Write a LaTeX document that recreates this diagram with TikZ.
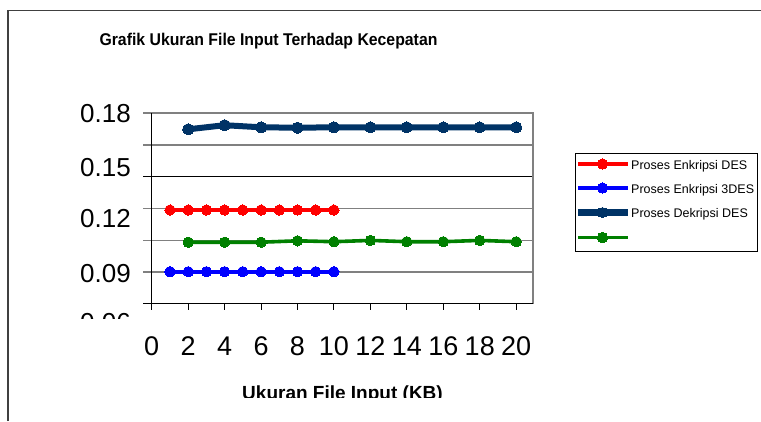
\documentclass[tikz,border=0pt]{standalone}
\usepackage{fontspec}
\setmainfont{Liberation Sans}
\definecolor{navy}{RGB}{0,51,102}
\definecolor{desgreen}{RGB}{0,128,0}
\definecolor{gridgray}{RGB}{128,128,128}
\definecolor{framegray}{RGB}{64,64,64}
\tikzset{
  gridline/.style={draw=gridgray, line width=1.2pt},
  tickline/.style={draw=black, line width=1pt},
  series/.style={line width=3.6pt, line join=round, mark=*, mark size=5.2pt,
                 mark options={solid, line width=0pt}},
  ylab/.style={anchor=base east, inner sep=0pt, font=\fontsize{26}{26}\selectfont},
  xlab/.style={anchor=base, inner sep=0pt, font=\fontsize{27}{27}\selectfont},
  legtext/.style={anchor=base west, inner sep=0pt, font=\fontsize{12.5}{12.5}\selectfont},
}
\begin{document}
\begin{tikzpicture}[x=1pt, y=-1pt]
\useasboundingbox (0,0) rectangle (761,421);
\fill[white] (0,0) rectangle (761,421);

% outer chart frame (top and left edges)
\draw[framegray, line width=1.5pt] (8,421) -- (8,10.5) -- (761,10.5);

% chart title
\node[anchor=base, inner sep=0pt, font=\bfseries\fontsize{17}{17}\selectfont]
  (title) at (268.5,45) {\scalebox{0.93}[1]{Grafik Ukuran File Input Terhadap Kecepatan}};

% horizontal gridlines
\foreach \gy in {145,208.7,240.7,272} {
  \draw[gridline] (143,\gy) -- (533,\gy);
}
\draw[tickline] (143,176.7) -- (533,176.7);
% plot area border (top and right)
\draw[gridgray, line width=1.5pt] (143,113) -- (533,113) -- (533,304);
% axes
\draw[tickline] (143,303.5) -- (533,303.5);
\draw[tickline] (151.7,113) -- (151.7,310);
% x ticks
\foreach \i in {1,...,10} {
  \draw[tickline] ({151.7+36.45*\i},303.5) -- ({151.7+36.45*\i},310);
}

% y tick labels
\node[ylab] (y18) at (131,122.7) {0.18};
\node[ylab] (y15) at (131,176) {0.15};
\node[ylab] (y12) at (131,227) {0.12};
\node[ylab] (y09) at (131,282) {0.09};
\begin{scope}
  \clip (0,0) rectangle (145,318.3);
  \node[ylab] (y06) at (131,331) {0.06};
\end{scope}

% x tick labels
\foreach \v [count=\k from 0] in {0,2,4,6,8,10,12,14,16,18,20} {
  \node[xlab] (x\v) at ({151.7+36.45*\k},355) {\v};
}

% x axis title
\begin{scope}
  \clip (0,0) rectangle (761,397.5);
  \node[anchor=base, inner sep=0pt, font=\bfseries\fontsize{19}{19}\selectfont]
    (xtitle) at (342.5,399) {Ukuran File Input (KB)};
\end{scope}

% data series (x in KB -> 151.7 + 18.225*x)
\draw[series, red] plot coordinates {
  (170,210) (188.2,210) (206.4,210) (224.6,210) (242.8,210)
  (261.1,210) (279.3,210) (297.5,210) (315.7,210) (333.9,210)};
\draw[series, blue] plot coordinates {
  (170,271.7) (188.2,271.7) (206.4,271.7) (224.6,271.7) (242.8,271.7)
  (261.1,271.7) (279.3,271.7) (297.5,271.7) (315.7,271.7) (333.9,271.7)};
\draw[series, desgreen] plot coordinates {
  (188.2,242.2) (224.6,242.2) (261.1,242.2) (297.5,240.8) (333.9,241.7)
  (370.4,240.4) (406.8,241.7) (443.3,241.7) (479.7,240.4) (516.2,241.7)};
\draw[series, navy, line width=6pt, mark size=5.6pt] plot coordinates {
  (188.2,129.3) (224.6,125.2) (261.1,127.3) (297.5,127.7) (333.9,127.3)
  (370.4,127.3) (406.8,127.3) (443.3,127.3) (479.7,127.3) (516.2,127.3)};

% legend
\draw[black, line width=1pt] (575,153.3) rectangle (757,251.7);
\draw[series, red, mark indices={2}]
  plot coordinates {(578,164) (602.5,164) (628,164)};
\draw[series, blue, mark indices={2}]
  plot coordinates {(578,188) (602.5,188) (628,188)};
\draw[series, navy, line width=6.5pt, mark size=5pt, mark indices={2}]
  plot coordinates {(578,212.5) (602.5,212.5) (628,212.5)};
\draw[series, desgreen, mark indices={2}]
  plot coordinates {(578,237.5) (602.5,237.5) (628,237.5)};
\node[legtext] (leg1) at (631,169.3) {Proses Enkripsi DES};
\node[legtext] (leg2) at (631,193.3) {Proses Enkripsi 3DES};
\node[legtext] (leg3) at (631,217.4) {Proses Dekripsi DES};
\end{tikzpicture}
\end{document}
